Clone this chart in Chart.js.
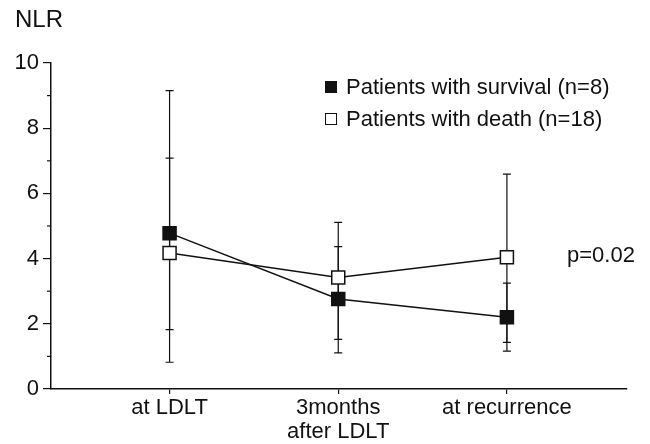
<!DOCTYPE html>
<html>
<head>
<meta charset="utf-8">
<script src="https://cdn.jsdelivr.net/npm/chart.js@4.4.0/dist/chart.umd.min.js"></script>
<style>
  body { margin: 0; background: #fff; }
  #wrap { position: relative; width: 650px; height: 444px; font-family: "Liberation Sans", Arial, sans-serif; color: #111; }
  .txt { position: absolute; font-size: 22px; line-height: 22px; white-space: nowrap; }
  .key { display: inline-block; width: 10px; height: 10px; border: 1.5px solid #111; margin-right: 9px; vertical-align: 1px; }
</style>
</head>
<body>
<div id="wrap">
  <canvas id="grafico" width="650" height="444"></canvas>
  <div class="txt" style="left:15px; top:7px; font-size:24px; line-height:24px;">NLR</div>
  <div class="txt" style="left:325px; top:76px;"><span class="key" style="background:#111"></span>Patients with survival (n=8)</div>
  <div class="txt" style="left:325px; top:108px;"><span class="key" style="background:#fff"></span>Patients with death (n=18)</div>
  <div class="txt" style="left:567px; top:244px;">p=0.02</div>
</div>
<script>
// categorias do eixo X
const categories = [['at LDLT'], ['3months', 'after LDLT'], ['at recurrence']];

// pacientes com sobrevida (quadrado preto)
const survivalMean = [4.78, 2.76, 2.20];
const survivalLow = [0.82, 1.11, 1.16];
const survivalHigh = [9.15, 4.37, 3.25];

// pacientes com óbito (quadrado branco)
const deathMean = [4.17, 3.42, 4.04];
const deathLow = [1.82, 1.52, 1.43];
const deathHigh = [7.08, 5.11, 6.59];

const yTicks = [0, 2, 4, 6, 8, 10];
const yMinorTicks = [1, 3, 5, 7, 9];

const ink = '#111';

// barras de erro, desenhadas antes dos pontos
const errorBars = {
    id: 'errorBars',
    beforeDatasetsDraw(chart) {
        const ctx = chart.ctx;
        const xs = chart.scales.x, ys = chart.scales.y;
        ctx.save();
        ctx.strokeStyle = ink;
        ctx.lineWidth = 1.2;
        chart.data.datasets.forEach(ds => {
            ds.data.forEach((p, i) => {
                const x = xs.getPixelForValue(p.x);
                const top = ys.getPixelForValue(ds.errHigh[i]);
                const bot = ys.getPixelForValue(ds.errLow[i]);
                ctx.beginPath();
                ctx.moveTo(x, top); ctx.lineTo(x, bot);
                ctx.moveTo(x - 4, top); ctx.lineTo(x + 4, top);
                ctx.moveTo(x - 4, bot); ctx.lineTo(x + 4, bot);
                ctx.stroke();
            });
        });
        ctx.restore();
    }
};

// ticks menores no eixo Y
const minorTicks = {
    id: 'minorTicks',
    afterDraw(chart) {
        const ctx = chart.ctx;
        const ys = chart.scales.y;
        const x = chart.chartArea.left;
        ctx.save();
        ctx.strokeStyle = ink;
        ctx.lineWidth = 1.2;
        yMinorTicks.forEach(v => {
            const y = ys.getPixelForValue(v);
            ctx.beginPath();
            ctx.moveTo(x - 4, y); ctx.lineTo(x, y);
            ctx.stroke();
        });
        ctx.restore();
    }
};

const toPoints = arr => arr.map((v, i) => ({ x: i, y: v }));

const ctx = document.getElementById('grafico').getContext('2d');
const myChart = new Chart(ctx, {
    type: 'line',
    data: {
        datasets: [{
            label: 'Patients with survival (n=8)',
            data: toPoints(survivalMean),
            errLow: survivalLow,
            errHigh: survivalHigh,
            borderColor: ink,
            borderWidth: 1.5,
            pointStyle: 'rect',
            pointRadius: 9.2,
            pointBackgroundColor: ink,
            pointBorderColor: ink,
            pointBorderWidth: 1.5,
            tension: 0
        }, {
            label: 'Patients with death (n=18)',
            data: toPoints(deathMean),
            errLow: deathLow,
            errHigh: deathHigh,
            borderColor: ink,
            borderWidth: 1.5,
            pointStyle: 'rect',
            pointRadius: 9.2,
            pointBackgroundColor: '#fff',
            pointBorderColor: ink,
            pointBorderWidth: 1.5,
            tension: 0
        }]
    },
    options: {
        responsive: false,
        animation: false,
        layout: { padding: { top: 63, right: 23, left: 0, bottom: 0 } },
        plugins: {
            legend: { display: false },
            tooltip: { enabled: false }
        },
        scales: {
            x: {
                type: 'linear',
                min: -0.703,
                max: 2.712,
                afterBuildTicks: scale => { scale.ticks = categories.map((c, i) => ({ value: i })); },
                afterFit: scale => { scale.height = 55; },
                grid: { drawOnChartArea: false, tickLength: 5, color: ink, lineWidth: 1.2 },
                border: { color: ink, width: 1.5 },
                ticks: {
                    autoSkip: false,
                    maxRotation: 0,
                    padding: 2,
                    color: ink,
                    font: { family: 'Liberation Sans', size: 22, lineHeight: 1.1 },
                    callback: value => categories[value]
                }
            },
            y: {
                min: 0,
                max: 10,
                afterBuildTicks: scale => { scale.ticks = yTicks.map(v => ({ value: v })); },
                afterFit: scale => { scale.width = 51; },
                grid: { drawOnChartArea: false, tickLength: 8, color: ink, lineWidth: 1.2 },
                border: { color: ink, width: 1.5 },
                ticks: {
                    padding: 4,
                    color: ink,
                    font: { family: 'Liberation Sans', size: 22 }
                }
            }
        }
    },
    plugins: [errorBars, minorTicks]
});
</script>
</body>
</html>
